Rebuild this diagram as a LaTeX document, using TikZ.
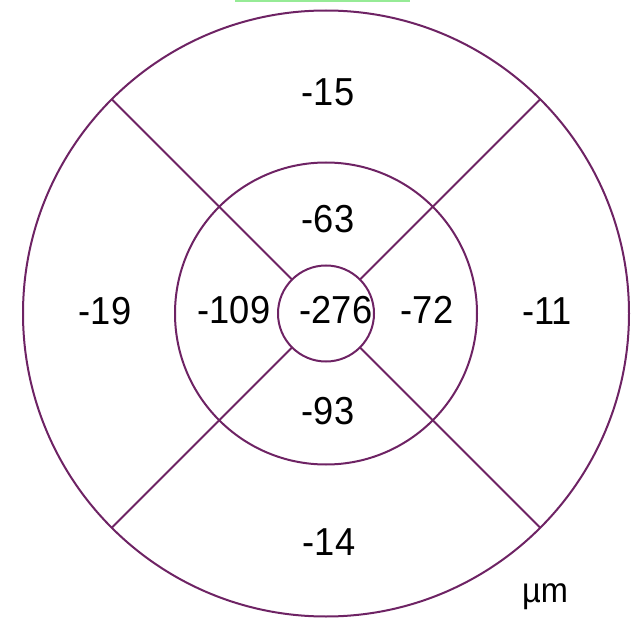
\documentclass[tikz,border=0pt]{standalone}
\usepackage{fontspec}
\usetikzlibrary{calc}
\setmainfont{Liberation Sans}
\newfontfamily\valfont[FakeStretch=0.93]{Liberation Sans}
\definecolor{ring}{RGB}{110,35,100}
\definecolor{topgreen}{RGB}{150,235,150}
\begin{document}
\begin{tikzpicture}[x=1pt,y=-1pt,
  ringline/.style={draw=ring,line width=2pt},
  val/.style={inner sep=0pt,font=\valfont\fontsize{39}{42}\selectfont,text=black}]
\useasboundingbox (0,0) rectangle (633,618);
\fill[topgreen] (235,0) rectangle (410,2.5);
\coordinate (c) at (326,313.5);
\draw[ringline] (c) circle (303);
\draw[ringline] (c) circle (151);
\draw[ringline] (c) circle (48);
\foreach \a in {45,135,225,315}{
  \draw[ringline] ($(c)+(\a:48)$) -- ($(c)+(\a:303)$);
}
\node[val] (s) at (328,92) {-15};
\node[val] (is) at (328,219) {-63};
\node[val] (t) at (105,311) {-19};
\node[val] (it) at (234,310) {-109};
\node[val] (f) at (336,310) {-276};
\node[val] (in) at (427,310) {-72};
\node[val] (n) at (547,311) {-11};
\node[val] (ii) at (328,411) {-93};
\node[val] (i) at (329,542) {-14};
\node[inner sep=0pt,font=\valfont\fontsize{35}{38}\selectfont] (u) at (545,597) {µm};
\end{tikzpicture}
\end{document}
